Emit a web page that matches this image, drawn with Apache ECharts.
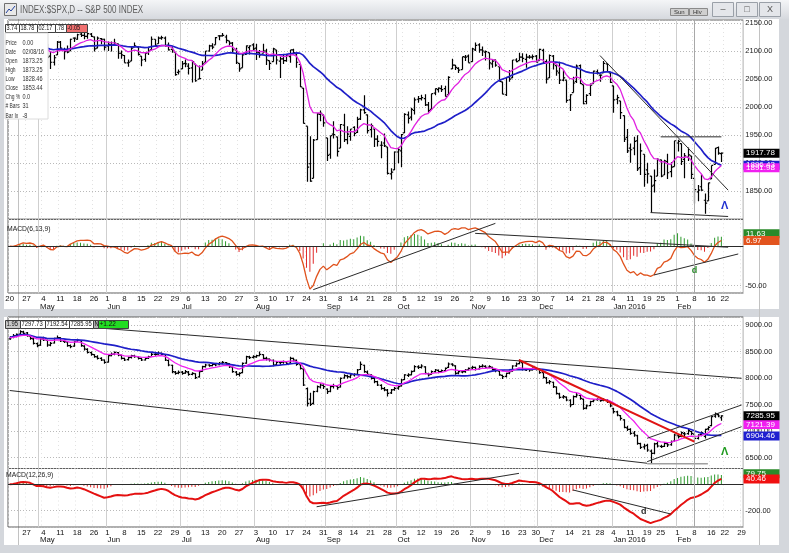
<!DOCTYPE html>
<html><head><meta charset="utf-8">
<script src="https://cdn.jsdelivr.net/npm/echarts@6.0.0/dist/echarts.min.js"></script>
<style>html,body{margin:0;padding:0;background:#d4d7dc;}#c{width:789px;height:553px;}</style>
</head><body><div id="c"></div>
<script>
// ---------- calendar ----------
const HOLIDAYS = ['2015-05-25','2015-07-03','2015-09-07','2015-11-26','2015-12-25','2016-01-01','2016-01-18','2016-02-15'];
const MONTH_NAMES = ['Jan 2016','Feb','Mar','Apr','May','Jun','Jul','Aug','Sep','Oct','Nov','Dec'];

// ---------- S&P 500 daily bars [open, high, low, close] ----------
const spxOHLC = [
[2102,2111,2097,2100],[2102,2109,2095,2097],[2098,2109,2091,2108],[2107,2120,2103,2113],[2115,2120,2112,2118],
[2120,2126,2105,2109],[2108,2117,2100,2115],[2114,2114,2098,2107],[2105,2106,2078,2086],[2088,2109,2088,2108],
[2111,2121,2110,2114],[2113,2113,2086,2089],[2091,2099,2068,2080],[2080,2093,2074,2088],[2093,2118,2093,2116],
[2116,2118,2104,2105],[2102,2106,2085,2099],[2100,2110,2096,2098],[2100,2122,2100,2121],[2123,2124,2116,2123],
[2121,2131,2120,2129],[2130,2134,2125,2128],[2128,2133,2121,2126],[2126,2133,2122,2131],[2130,2132,2125,2126],
[2125,2126,2099,2104],[2105,2126,2105,2123],[2122,2123,2112,2121],[2121,2122,2101,2107],[2109,2117,2100,2112],
[2111,2117,2099,2110],[2111,2122,2111,2114],[2113,2113,2086,2096],[2096,2101,2086,2093],[2092,2093,2079,2079],
[2079,2085,2072,2080],[2082,2107,2082,2105],[2107,2115,2107,2109],[2107,2107,2092,2094],[2091,2091,2073,2084],
[2085,2098,2081,2096],[2097,2107,2093,2100],[2102,2126,2102,2121],[2121,2121,2107,2110],[2113,2126,2113,2123],
[2123,2127,2120,2124],[2123,2126,2108,2109],[2110,2115,2101,2102],[2103,2108,2097,2101],[2098,2098,2056,2058],
[2062,2067,2058,2063],[2068,2082,2068,2077],[2078,2085,2071,2077],[2073,2078,2058,2069],[2070,2083,2044,2081],
[2077,2077,2045,2047],[2050,2074,2050,2051],[2066,2082,2066,2077],[2080,2100,2080,2100],[2100,2111,2099,2109],
[2109,2114,2103,2107],[2111,2125,2111,2124],[2127,2128,2119,2127],[2127,2132,2126,2128],[2125,2129,2114,2119],
[2118,2118,2110,2114],[2114,2116,2096,2102],[2102,2106,2077,2080],[2078,2078,2063,2068],[2070,2095,2070,2093],
[2094,2110,2094,2109],[2106,2110,2094,2109],[2111,2114,2102,2104],[2105,2113,2084,2098],[2097,2102,2088,2093],
[2096,2113,2096,2100],[2100,2104,2075,2084],[2083,2083,2066,2078],[2081,2106,2081,2104],[2102,2102,2076,2084],
[2082,2090,2052,2086],[2086,2093,2077,2083],[2083,2093,2081,2092],[2090,2102,2079,2102],[2102,2104,2094,2097],
[2095,2096,2070,2080],[2076,2076,2036,2036],[2034,2034,1971,1971],[1966,1966,1867,1893],[1899,1948,1867,1868],
[1873,1943,1873,1941],[1942,1989,1942,1988],[1987,1994,1975,1989],[1986,1987,1965,1972],[1945,1945,1904,1914],
[1916,1949,1908,1949],[1952,1975,1944,1951],[1947,1947,1912,1921],[1927,1970,1927,1969],[1968,1988,1938,1942],
[1942,1966,1934,1952],[1948,1961,1940,1961],[1964,1966,1948,1953],[1955,1983,1954,1978],[1979,1997,1977,1995],
[1995,2021,1988,1990],[1986,1987,1953,1958],[1960,1971,1946,1967],[1961,1961,1929,1943],[1943,1950,1930,1939],
[1932,1939,1909,1932],[1936,1953,1929,1931],[1929,1929,1880,1882],[1881,1891,1871,1884],[1888,1921,1888,1920],
[1920,1927,1900,1924],[1922,1952,1893,1951],[1954,1989,1954,1987],[1986,1992,1971,1980],[1982,1999,1976,1996],
[1994,2017,1987,2013],[2014,2020,2008,2015],[2015,2022,2012,2017],[2015,2023,2002,2004],[2004,2009,1990,1994],
[1996,2024,1996,2024],[2025,2033,2021,2033],[2031,2035,2026,2034],[2033,2039,2027,2031],[2033,2038,2019,2019],
[2022,2055,2022,2053],[2068,2086,2068,2075],[2075,2075,2066,2071],[2069,2071,2061,2066],[2067,2090,2067,2090],
[2089,2093,2082,2089],[2091,2094,2079,2079],[2081,2106,2081,2104],[2102,2115,2100,2110],[2111,2114,2097,2102],
[2102,2108,2091,2100],[2098,2101,2083,2099],[2097,2097,2067,2079],[2077,2084,2070,2082],[2084,2085,2072,2075],
[2072,2072,2046,2046],[2045,2045,2023,2023],[2022,2053,2020,2053],[2054,2066,2045,2050],[2052,2084,2052,2084],
[2084,2087,2080,2081],[2083,2097,2083,2089],[2089,2096,2080,2087],[2085,2095,2070,2089],[2089,2093,2086,2089],
[2089,2094,2085,2090],[2091,2093,2080,2080],[2083,2104,2083,2103],[2101,2104,2077,2080],[2081,2085,2042,2050],
[2052,2094,2052,2092],[2091,2093,2067,2077],[2074,2074,2056,2064],[2061,2081,2041,2048],[2048,2066,2046,2052],
[2048,2048,2008,2012],[2013,2023,1993,2022],[2026,2054,2026,2043],[2046,2076,2043,2073],[2074,2076,2041,2042],
[2040,2040,2005,2006],[2010,2023,2005,2021],[2024,2042,2020,2039],[2042,2065,2042,2064],[2063,2067,2058,2061],
[2057,2058,2045,2057],[2061,2082,2061,2078],[2077,2078,2063,2063],[2061,2062,2043,2044],[2038,2038,1990,2013],
[2014,2022,2005,2017],[2011,2011,1979,1990],[1985,1985,1938,1943],[1946,1961,1918,1922],[1927,1935,1901,1924],
[1927,1947,1914,1939],[1940,1950,1886,1890],[1892,1935,1879,1922],[1916,1916,1858,1880],[1888,1901,1864,1881],
[1877,1877,1812,1859],[1861,1889,1848,1869],[1877,1909,1877,1907],[1906,1906,1875,1877],[1879,1906,1879,1904],
[1903,1917,1872,1883],[1885,1902,1875,1893],[1894,1940,1894,1940],[1936,1942,1921,1939],[1935,1935,1897,1903],
[1907,1918,1873,1913],[1911,1928,1904,1915],[1913,1913,1872,1880],[1873,1873,1828,1853],[1849,1861,1832,1852],
[1858,1880,1851,1852],[1834,1846,1810,1829],[1833,1865,1833,1865],[1872,1896,1872,1896],[1898,1927,1898,1927],
[1928,1930,1915,1918],[1917,1919,1902,1918]
];

// ---------- Dow Jones Transportation daily bars [open, high, low, close] ----------
const tranOHLC = [
[8740,8790,8720,8761],[8765,8830,8750,8799],[8800,8840,8770,8824],[8830,8900,8810,8874],[8870,8890,8820,8843],
[8850,8870,8780,8799],[8790,8800,8720,8748],[8740,8760,8630,8654],[8650,8670,8580,8610],[8620,8750,8610,8736],
[8740,8780,8700,8717],[8710,8720,8590,8623],[8620,8680,8600,8654],[8660,8760,8650,8748],[8750,8800,8740,8761],
[8760,8770,8680,8698],[8690,8720,8660,8686],[8680,8690,8590,8610],[8610,8630,8560,8591],[8600,8700,8590,8686],
[8690,8740,8680,8717],[8700,8710,8590,8610],[8600,8620,8520,8547],[8540,8560,8460,8484],[8480,8500,8420,8446],
[8440,8450,8380,8402],[8400,8430,8350,8371],[8370,8390,8320,8340],[8340,8350,8270,8296],[8300,8430,8290,8421],
[8420,8480,8410,8446],[8450,8500,8430,8484],[8480,8490,8410,8434],[8430,8440,8350,8371],[8370,8380,8320,8340],
[8345,8400,8330,8384],[8390,8440,8370,8421],[8420,8440,8380,8402],[8400,8410,8350,8371],[8370,8380,8320,8340],
[8340,8390,8330,8371],[8375,8420,8360,8402],[8405,8470,8400,8446],[8445,8480,8420,8446],[8450,8500,8440,8465],
[8465,8480,8420,8446],[8440,8450,8320,8340],[8330,8350,8220,8245],[8240,8250,8090,8119],[8110,8130,8060,8088],
[8090,8140,8070,8107],[8110,8130,8060,8088],[8090,8150,8080,8119],[8110,8130,8040,8069],[8070,8110,8050,8088],
[8080,8090,7980,8006],[8020,8130,8010,8119],[8125,8230,8120,8214],[8215,8270,8200,8245],[8245,8260,8210,8233],
[8235,8280,8220,8258],[8255,8270,8220,8245],[8250,8300,8240,8277],[8280,8320,8260,8296],[8290,8300,8250,8277],
[8270,8280,8190,8214],[8210,8220,8100,8119],[8110,8130,8040,8069],[8070,8110,8030,8088],[8100,8290,8090,8277],
[8280,8420,8270,8402],[8400,8420,8360,8384],[8390,8430,8370,8402],[8400,8440,8380,8421],[8420,8500,8410,8446],
[8440,8450,8350,8371],[8370,8400,8330,8358],[8355,8370,8310,8340],[8335,8350,8220,8245],[8250,8320,8240,8296],
[8290,8320,8250,8296],[8300,8330,8270,8308],[8305,8320,8250,8277],[8280,8400,8270,8371],[8370,8380,8310,8340],
[8335,8350,8230,8258],[8250,8260,8160,8182],[8170,8180,7850,7868],[7800,7820,7460,7522],[7600,7720,7470,7503],
[7520,7760,7500,7742],[7750,7860,7730,7836],[7830,7900,7800,7868],[7860,7880,7790,7836],[7790,7800,7700,7742],
[7750,7850,7730,7836],[7840,7890,7800,7855],[7840,7860,7780,7817],[7830,8010,7820,7994],[8000,8070,7990,8044],
[8040,8060,7990,8025],[8020,8070,8000,8057],[8060,8090,8030,8069],[8070,8170,8060,8151],[8160,8310,8150,8258],
[8240,8250,8100,8119],[8110,8140,8050,8069],[8060,8070,7970,7994],[7990,8000,7900,7931],[7930,7950,7850,7868],
[7860,7880,7780,7805],[7800,7830,7750,7774],[7770,7790,7650,7711],[7720,7790,7700,7774],[7780,7830,7760,7805],
[7810,7850,7780,7836],[7850,7980,7840,7962],[7970,8070,7960,8057],[8050,8090,8020,8057],[8060,8140,8050,8119],
[8130,8240,8120,8214],[8210,8240,8170,8201],[8200,8260,8180,8226],[8210,8220,8070,8088],[8080,8100,8030,8057],
[8070,8140,8060,8119],[8120,8170,8100,8151],[8145,8160,8090,8119],[8120,8160,8100,8138],[8140,8200,8130,8182],
[8200,8290,8190,8264],[8260,8280,8220,8245],[8230,8240,8060,8088],[8090,8140,8070,8119],[8115,8140,8090,8119],
[8120,8170,8100,8151],[8155,8200,8140,8182],[8190,8230,8170,8201],[8200,8210,8140,8163],[8170,8240,8160,8214],
[8220,8260,8200,8226],[8220,8240,8180,8201],[8205,8240,8190,8214],[8200,8210,8140,8163],[8160,8170,8110,8138],
[8130,8140,8040,8057],[8050,8060,7980,8025],[8030,8100,8010,8088],[8090,8140,8070,8119],[8130,8240,8120,8226],
[8230,8290,8210,8264],[8270,8350,8260,8308],[8290,8300,8140,8163],[8150,8190,8130,8163],[8160,8180,8120,8151],
[8155,8200,8140,8182],[8180,8200,8140,8163],[8170,8180,8080,8101],[8100,8110,7990,8013],[8000,8020,7890,7912],
[7920,7960,7880,7931],[7920,7930,7810,7836],[7830,7840,7690,7711],[7700,7720,7610,7635],[7640,7680,7610,7648],
[7640,7650,7560,7585],[7580,7600,7450,7491],[7500,7670,7490,7648],[7650,7720,7630,7679],[7670,7690,7590,7616],
[7600,7610,7400,7428],[7430,7500,7410,7472],[7480,7570,7470,7553],[7560,7600,7540,7585],[7590,7620,7570,7597],
[7590,7610,7550,7572],[7580,7620,7560,7585],[7580,7600,7530,7553],[7550,7560,7450,7472],[7420,7440,7330,7365],
[7360,7380,7280,7302],[7290,7300,7200,7239],[7210,7220,7050,7069],[7060,7100,7000,7031],[7030,7050,6930,6956],
[6960,7000,6890,6924],[6910,6930,6740,6767],[6760,6780,6660,6692],[6700,6760,6650,6717],[6730,6760,6610,6641],
[6620,6650,6390,6578],[6580,6780,6560,6755],[6760,6800,6690,6717],[6710,6740,6680,6704],[6710,6790,6700,6767],
[6760,6790,6700,6736],[6740,6820,6720,6799],[6810,6950,6800,6924],[6910,6940,6860,6893],[6900,6990,6880,6968],
[6950,6980,6890,6943],[6950,7050,6930,7006],[6990,7000,6920,6956],[6940,6950,6820,6862],[6860,6940,6840,6924],
[6930,6990,6900,6968],[6900,7040,6860,7031],[7040,7090,7010,7069],[7100,7280,7090,7270],[7280,7350,7250,7321],
[7310,7330,7260,7283],[7250,7298,7193,7286]
];

// ---------- hand-drawn trendlines [[index, value],[index, value]] ----------
const spxLines = [[[175,2092],[213,1852]], [[193,1947],[211,1947]], [[190,1812],[213,1805]]];
const spxMacdLines = [[[90,-55],[144,28.6]], [[138,16],[213,-1.5]], [[191,-36.5],[216,-10]]];
const tranLines = [[[0,9075],[217,7994]], [[0,7764],[189,6391]], [[189,6862],[217,7491]], [[189,6421],[217,7081]]];
const tranRedLine = [[151,8340],[203,6798]];
const tranGrayLine = [[189,6380],[207,6380]];
const tranMacdLines = [[[91,-170],[151,83]], [[167,-43],[196,-225]]];
const spxMarks = [[212,1823]];
const spxMacdMarks = [[203,-31]];
const tranMarks = [[212,6609]];
const tranMacdMarks = [[188,-208]];

// ---------- texts ----------
const spxTitle = 'INDEX:$SPX,D -- S&P 500 INDEX';
const spxStrip = ['3.74','18.78','02.17','.78','-0.05'];
const tranStrip = ['1.95','7297.73','7192.54','7285.95','N','+1.22'];
const dataWinLabels = ['Price','Date','Open','High','Low','Close','Chg %','# Bars','Bar Ix'];
const dataWinValues = ['0.00','02/08/16','1873.25','1873.25','1828.46','1853.44','0.0','31','-8'];
const spxBoxes = {close:'1917.78', mag:'1891.98', blue:'1896.43', hist:'11.63', macd:'6.97'};
const tranBoxes = {close:'7285.95', mag:'7121.39', blue:'6904.46', hist:'79.75', macd:'40.46'};

// ---------- build calendar ----------
function tradingDays(){
  const out=[]; let t=Date.UTC(2015,3,20); const end=Date.UTC(2016,1,29);
  while(t<=end){ const d=new Date(t); const wd=d.getUTCDay(); const s=d.toISOString().slice(0,10);
    if(wd!==0&&wd!==6&&HOLIDAYS.indexOf(s)<0) out.push(s); t+=86400000; }
  return out;
}
const dates = tradingDays();
const N = dates.length;
const dow = dates.map(s=>new Date(s+'T00:00:00Z').getUTCDay());
const weekStart = dates.map((s,i)=> i===0 || dow[i]<=dow[i-1]);
const monthStart = dates.map((s,i)=> i>0 && s.slice(5,7)!==dates[i-1].slice(5,7));
function monthName(s){ const m=+s.slice(5,7); return m===1?'Jan 2016':MONTH_NAMES[m-1]; }

// ---------- indicators ----------
function sma(a,n){const o=[];let s=0;for(let i=0;i<a.length;i++){s+=a[i];if(i>=n)s-=a[i-n];o.push(+(s/Math.min(i+1,n)).toFixed(2));}return o;}
function ema(a,n){const k=2/(n+1);const o=[];let e=a[0];for(let i=0;i<a.length;i++){if(i>0)e=e+k*(a[i]-e);o.push(+e.toFixed(2));}return o;}
function macd(a,f,s,g){const ef=ema(a,f),es=ema(a,s);const m=ef.map((v,i)=>v-es[i]);const sg=ema(m,g);return {m:m.map(v=>+v.toFixed(2)),h:m.map((v,i)=>+(v-sg[i]).toFixed(2))};}

const spxClose = spxOHLC.map(r=>r[3]);
const tranClose = tranOHLC.map(r=>r[3]);
const spxBlue = sma(spxClose,30), spxMag = ema(spxClose,10);
const tranBlue = sma(tranClose,30), tranMag = ema(tranClose,10);
const spxM = macd(spxClose,6,13,9), tranM = macd(tranClose,12,26,9);

// ---------- layout ----------
const L=8, R=45.7;
const G = [
  {top:20, height:199.3, min:1800, max:2155.3, iv:50},
  {top:219.3, height:73.7, min:-59.2, max:33.7, iv:50},
  {top:317, height:151.5, min:6292, max:9151, iv:500},
  {top:468.5, height:58.5, min:-323.5, max:119.7, iv:200}
];
const FONT='Liberation Sans';

const grids = G.map(g=>({left:L,right:R,top:g.top,height:g.height,show:true,borderColor:'#5f5f5f',borderWidth:1,backgroundColor:'transparent'}));
const xAxes=[];
G.forEach((g,gi)=>{
  const isMacd = gi%2===1;
  xAxes.push({type:'category',gridIndex:gi,data:dates,boundaryGap:true,position:'bottom',
    axisLine:{show:false},axisTick:{show:false},
    axisLabel:{show:isMacd,interval:(i)=>weekStart[i] && !(gi===1&&i===N-1) && !(gi===3&&i===0),
      formatter:(v)=>String(+v.slice(8)),fontSize:7.8,fontFamily:FONT,color:'#111',margin:1.5},
    splitLine:{show:true,interval:(i)=>weekStart[i],lineStyle:{color:'#e2e2e2',type:[1,3],width:1}}});
  xAxes.push({type:'category',gridIndex:gi,data:dates,boundaryGap:true,position:'bottom',
    axisLine:{show:false},axisTick:{show:false},
    axisLabel:{show:isMacd,interval:(i)=>monthStart[i],formatter:(v)=>monthName(v),align:'left',
      fontSize:7.8,fontFamily:FONT,color:'#111',margin:gi===1?9.5:8.5},
    splitLine:{show:true,interval:(i)=>monthStart[i],lineStyle:{color:'#cfcfcf',width:1}}});
});
const yAxes = G.map((g,gi)=>({type:'value',gridIndex:gi,position:'right',min:g.min,max:g.max,
  minInterval:g.iv,maxInterval:g.iv,scale:true,
  axisLine:{show:false},axisTick:{show:false},
  axisLabel:{showMinLabel:false,showMaxLabel:false,fontSize:7.5,fontFamily:FONT,color:'#1a1a1a',margin:2,
    formatter:(v)=>{ if(gi===1) return v===-50?'-50.00':''; if(gi===3) return v===-200?'-200.00':''; if(gi===0&&v<1825) return ''; return v.toFixed(2);} },
  splitLine:{show:true,lineStyle:{color:'#b9b9b9',type:[1,2],width:1}}}));

function ohlcRender(params, api){
  const x=api.value(0);
  const o=api.coord([x,api.value(1)]), h=api.coord([x,api.value(2)]), l=api.coord([x,api.value(3)]), c=api.coord([x,api.value(4)]);
  const cx=Math.round(o[0])+0.5, w=1.7;
  const st={stroke:'#000',lineWidth:1.2};
  return {type:'group',children:[
    {type:'line',shape:{x1:cx,y1:h[1],x2:cx,y2:l[1]},style:st},
    {type:'line',shape:{x1:cx-w,y1:o[1],x2:cx,y2:o[1]},style:st},
    {type:'line',shape:{x1:cx,y1:c[1],x2:cx+w,y2:c[1]},style:st}]};
}
const cross = {silent:true,symbol:'none',label:{show:false},lineStyle:{color:'#a8a8a8',width:1,type:'solid'},data:[{xAxis:dates[203]}]};
function seg(gi, pts, color, width, z){
  return {type:'line',xAxisIndex:gi*2,yAxisIndex:gi,data:pts,showSymbol:false,symbol:'none',silent:true,z:z||4,
    lineStyle:{color:color,width:width}};
}
function txt(gi, pts, text, color, size){
  return {type:'scatter',xAxisIndex:gi*2,yAxisIndex:gi,data:pts,symbolSize:1,itemStyle:{color:'rgba(0,0,0,0)'},silent:true,z:6,
    label:{show:true,position:'inside',formatter:text,color:color,fontSize:size,fontWeight:'bold',fontFamily:FONT,opacity:1}};
}

const series = [];
// top price
series.push({type:'custom',xAxisIndex:0,yAxisIndex:0,renderItem:ohlcRender,data:spxOHLC.map((r,i)=>[i].concat(r)),encode:{x:0,y:[1,2,3,4]},z:3,markLine:cross,clip:true});
series.push({type:'line',xAxisIndex:0,yAxisIndex:0,data:spxBlue,showSymbol:false,lineStyle:{color:'#1f1fc8',width:1.7},z:4});
series.push({type:'line',xAxisIndex:0,yAxisIndex:0,data:spxMag,showSymbol:false,lineStyle:{color:'#e020e0',width:1.3},z:4});
spxLines.forEach(p=>series.push(seg(0,p,'#2a2a2a',1)));
series.push(txt(0,spxMarks,'Λ','#1f2fd0',11));
// top macd
series.push({type:'bar',xAxisIndex:2,yAxisIndex:1,data:spxM.h,barWidth:1,z:3,
  itemStyle:{color:(p)=>p.value>=0?'#2e9a2e':'#e02a2a'},
  markLine:{silent:true,symbol:'none',label:{show:false},data:[{yAxis:0,lineStyle:{color:'#2a2a2a',width:1,type:'solid'}},{xAxis:dates[203],lineStyle:{color:'#a8a8a8',width:1,type:'solid'}}]}});
series.push({type:'line',xAxisIndex:2,yAxisIndex:1,data:spxM.m,showSymbol:false,lineStyle:{color:'#e0521c',width:1.3},z:4});
spxMacdLines.forEach(p=>series.push(seg(1,p,'#2a2a2a',1)));
series.push(txt(1,spxMacdMarks,'d','#2a8a2a',9));
// bottom price
series.push({type:'custom',xAxisIndex:4,yAxisIndex:2,renderItem:ohlcRender,data:tranOHLC.map((r,i)=>[i].concat(r)),encode:{x:0,y:[1,2,3,4]},z:3,markLine:cross,clip:true});
series.push({type:'line',xAxisIndex:4,yAxisIndex:2,data:tranBlue,showSymbol:false,lineStyle:{color:'#1f1fc8',width:1.7},z:4});
series.push({type:'line',xAxisIndex:4,yAxisIndex:2,data:tranMag,showSymbol:false,lineStyle:{color:'#f020f0',width:1.3},z:4});
tranLines.forEach(p=>series.push(seg(2,p,'#2a2a2a',1)));
series.push(seg(2,tranRedLine,'#e01414',2,5));
series.push(seg(2,tranGrayLine,'#a0a0a0',1.5));
series.push(txt(2,tranMarks,'Λ','#1e9a1e',11));
// bottom macd
series.push({type:'bar',xAxisIndex:6,yAxisIndex:3,data:tranM.h,barWidth:1,z:3,
  itemStyle:{color:(p)=>p.value>=0?'#2e9a2e':'#e02a2a'},
  markLine:{silent:true,symbol:'none',label:{show:false},data:[{yAxis:0,lineStyle:{color:'#2a2a2a',width:1,type:'solid'}},{xAxis:dates[203],lineStyle:{color:'#a8a8a8',width:1,type:'solid'}}]}});
series.push({type:'line',xAxisIndex:6,yAxisIndex:3,data:tranM.m,showSymbol:false,lineStyle:{color:'#e41010',width:2},z:4});
tranMacdLines.forEach(p=>series.push(seg(3,p,'#2a2a2a',1)));
series.push(txt(3,tranMacdMarks,'d','#333333',9));

const chart = echarts.init(document.getElementById('c'),null,{renderer:'canvas'});
chart.setOption({backgroundColor:'#d4d7dc',animation:false,grid:grids,xAxis:xAxes,yAxis:yAxes,series:series});

// ---------- overlays ----------
function yPix(gi,v){ return chart.convertToPixel({yAxisIndex:gi}, v); }
function rect(x,y,w,h,fill,stroke,z){return {type:'rect',shape:{x:x,y:y,width:w,height:h},style:{fill:fill,stroke:stroke||null,lineWidth:1},z:z==null?100:z,silent:true};}
function text(x,y,s,o){o=o||{};return {type:'text',x:x,y:y,z:o.z||101,silent:true,scaleX:o.sx||1,
  style:{text:s,fill:o.color||'#111',font:(o.bold?'bold ':'')+(o.size||8)+'px "'+FONT+'"',textVerticalAlign:'middle',textAlign:o.align||'left'}};}
function vline(x,y1,y2,c,z){return {type:'line',shape:{x1:x,y1:y1,x2:x,y2:y2},style:{stroke:c,lineWidth:1},z:z,silent:true};}
function valueBox(gi,v,label,fill,fg){ const y=yPix(gi,v); return [rect(743.5,y-4.5,36,9,fill,null,100), text(746,y,label,{color:fg||'#fff',size:8})]; }

const last = spxClose.length-1;
const el = [];
// frame / backgrounds
el.push(rect(0,0,789,19,{type:'linear',x:0,y:0,x2:0,y2:1,colorStops:[{offset:0,color:'#f4f5f7'},{offset:1,color:'#d6d9de'}]},null,-10));
el.push(rect(4,19,775,290,'#ffffff',null,-10));
el.push(rect(4,317,775,228,'#ffffff',null,-10));
el.push(vline(18.5,19,545,'#c2c2c2',-5));
el.push(vline(759.5,19,545,'#c2c2c2',-5));
// title bar
el.push(rect(4.5,3.5,12,12,'#e8e8e8','#707070',100));
el.push({type:'polyline',shape:{points:[[6,13],[9,9],[11,11],[15,6]]},style:{stroke:'#2040a0',lineWidth:1},z:101,silent:true});
el.push(text(20,10,spxTitle,{color:'#5b5b5b',size:10,sx:0.8}));
el.push(rect(670.5,8.5,18,7,'#cfcfcf','#8a8a8a',100)); el.push(text(674,12,'Sun',{size:6,color:'#333'}));
el.push(rect(689.5,8.5,18,7,'#cfcfcf','#8a8a8a',100)); el.push(text(693,12,'Hlv',{size:6,color:'#333'}));
[[712.5,'–'],[736.5,'□'],[759.5,'X']].forEach(b=>{el.push(rect(b[0],2.5,21,14,'#e4e6ea','#9aa0a8',100)); el.push(text(b[0]+10.5,10,b[1],{size:9,color:'#555',align:'center'}));});
// top strip
const sb=[[5,14],[19,18],[37,18],[55,11],[66,21]];
spxStrip.forEach((s,i)=>{el.push(rect(sb[i][0]+0.5,24.5,sb[i][1],8,i===4?'#f07070':'#ffffff','#404040',100)); el.push(text(sb[i][0]+1.5,28.5,s,{size:6.5,color:'#111',sx:0.85}));});
// data window
el.push(rect(5,33,43,86,'#ffffff','#dcdcdc',100));
dataWinLabels.forEach((s,i)=>{const y=43+i*9.1; el.push(text(5.5,y,s,{size:6.3,color:'#333',sx:0.78})); el.push(text(22.5,y,dataWinValues[i],{size:6.3,color:'#333',sx:0.88}));});
// bottom strip
const bb=[[5,15,'#c8c8c8'],[20,25,'#fff'],[45,24,'#fff'],[69,24,'#fff'],[93,5,'#b0b0b0'],[98,30,'#22dd22']];
tranStrip.forEach((s,i)=>{el.push(rect(bb[i][0]+0.5,320.5,bb[i][1],8,bb[i][2],'#404040',100)); el.push(text(bb[i][0]+1.5,324.5,s,{size:6.5,color:'#111',sx:(i===5?1:0.9)}));});
// macd captions
el.push(text(7,228.5,'MACD(6,13,9)',{size:8,color:'#222',sx:0.85}));
el.push(text(6,474.5,'MACD(12,26,9)',{size:8,color:'#222',sx:0.85}));
// value boxes (drawn at the values printed in them)
valueBox(0,spxBlue[last],spxBoxes.blue,'#1f1fd0').forEach(e=>el.push(e));
valueBox(0,parseFloat(spxBoxes.mag),spxBoxes.mag,'#f020f0').forEach(e=>el.push(e));
valueBox(0,parseFloat(spxBoxes.close),spxBoxes.close,'#000000').forEach(e=>el.push(e));
valueBox(1,parseFloat(spxBoxes.hist)+4,spxBoxes.hist,'#2a8a2a').forEach(e=>el.push(e));
valueBox(1,parseFloat(spxBoxes.macd),spxBoxes.macd,'#e2541e').forEach(e=>el.push(e));
valueBox(2,parseFloat(tranBoxes.blue),tranBoxes.blue,'#1f1fd0').forEach(e=>el.push(e));
valueBox(2,parseFloat(tranBoxes.mag),tranBoxes.mag,'#f020f0').forEach(e=>el.push(e));
valueBox(2,parseFloat(tranBoxes.close),tranBoxes.close,'#000000').forEach(e=>el.push(e));
valueBox(3,parseFloat(tranBoxes.hist),tranBoxes.hist,'#2a8a2a').forEach(e=>el.push(e));
valueBox(3,parseFloat(tranBoxes.macd),tranBoxes.macd,'#f01010').forEach(e=>el.push(e));
chart.setOption({graphic:{elements:el}});
</script></body></html>
